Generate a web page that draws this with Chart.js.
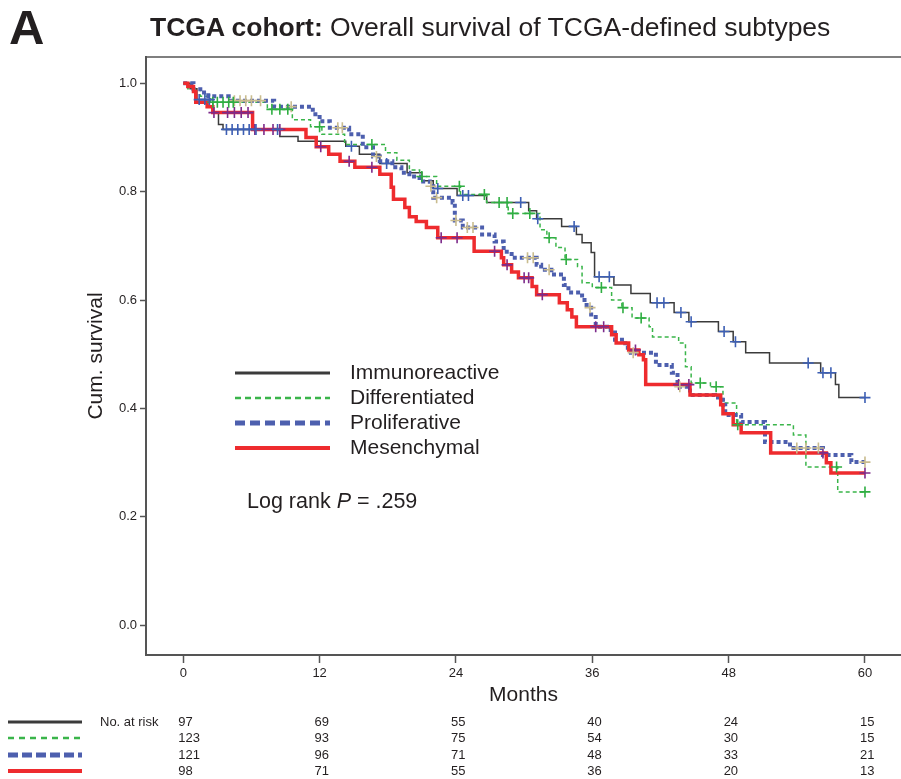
<!DOCTYPE html>
<html>
<head>
<meta charset="utf-8">
<script src="https://cdn.jsdelivr.net/npm/chart.js@4.4.1/dist/chart.umd.min.js"></script>
<style>
  body { margin: 0; background: #fff; }
  #wrap { position: relative; width: 901px; height: 779px; font-family: Arial, "Liberation Sans", sans-serif; color: #231f20; }
  #panel { position: absolute; left: 9px; top: 3px; font-size: 49px; font-weight: bold; line-height: 49px; }
  #title { position: absolute; left: 150px; top: 14px; font-size: 26.5px; line-height: 26.5px; white-space: nowrap; }
  canvas { position: absolute; left: 0; top: 0; }
</style>
</head>
<body>
<div id="wrap">
  <canvas id="km" width="901" height="779"></canvas>
  <div id="panel">A</div>
  <div id="title"><b>TCGA cohort:</b> Overall survival of TCGA-defined subtypes</div>
</div>
<script>
const months = [0, 12, 24, 36, 48, 60];
const survTicks = [0, 0.2, 0.4, 0.6, 0.8, 1.0];
const subtypes = ['Immunoreactive', 'Differentiated', 'Proliferative', 'Mesenchymal'];

// Kaplan-Meier steps (months, cumulative survival)
const immTimes = [0, 0.6, 1.2, 2.6, 3.1, 3.5, 8.5, 10.1, 14.3, 15.5, 17.3, 19.7, 21.0, 22.0, 24.1, 26.7, 30.4, 31.1, 33.3, 34.6, 35.1, 35.9, 36.2, 37.9, 39.4, 41.1, 43.2, 44.5, 47.1, 48.4, 49.5, 51.6, 56.1, 57.4, 57.7, 60];
const immSurv = [1.0, 0.99, 0.97, 0.946, 0.924, 0.915, 0.902, 0.893, 0.884, 0.869, 0.852, 0.835, 0.82, 0.806, 0.793, 0.78, 0.765, 0.75, 0.736, 0.721, 0.706, 0.688, 0.643, 0.628, 0.612, 0.595, 0.577, 0.56, 0.542, 0.523, 0.503, 0.484, 0.466, 0.444, 0.42, 0.42];
const immCensored = [1.4, 1.9, 2.3, 3.8, 4.3, 4.8, 5.3, 5.8, 6.4, 8.3, 14.8, 17.9, 22.4, 24.6, 25.1, 29.7, 31.2, 34.4, 36.6, 37.5, 41.7, 42.3, 43.8, 44.7, 47.6, 48.6, 55.0, 56.3, 57.0, 60];

const difTimes = [0, 0.4, 1.5, 2.4, 7.4, 9.6, 11.2, 12.2, 14.2, 17.8, 18.8, 19.9, 20.8, 22.3, 24.4, 26.7, 28.6, 31.4, 32.0, 32.8, 33.6, 34.7, 35.1, 36.0, 37.7, 38.6, 39.5, 41.0, 41.3, 43.6, 44.2, 44.7, 46.4, 47.5, 48.7, 53.7, 54.8, 57.6, 60];
const difSurv = [1.0, 0.99, 0.976, 0.965, 0.952, 0.933, 0.92, 0.906, 0.887, 0.872, 0.858, 0.84, 0.828, 0.81, 0.795, 0.78, 0.76, 0.73, 0.715, 0.697, 0.675, 0.662, 0.632, 0.623, 0.60, 0.586, 0.567, 0.551, 0.532, 0.521, 0.477, 0.447, 0.44, 0.41, 0.37, 0.351, 0.292, 0.246, 0.246];
const difCensored = [2.6, 3.0, 3.5, 4.0, 4.4, 7.8, 8.5, 9.2, 12.0, 16.6, 21.0, 24.3, 26.5, 27.8, 28.5, 29.0, 30.5, 32.2, 33.7, 36.8, 38.7, 40.3, 45.5, 46.9, 48.8, 57.5, 60];

const proTimes = [0, 0.9, 1.5, 2.2, 4.0, 8.0, 11.4, 12.0, 12.9, 14.6, 15.8, 16.7, 17.3, 18.4, 19.2, 19.9, 20.8, 21.7, 22.0, 23.7, 23.9, 24.6, 26.3, 27.4, 28.2, 28.9, 31.1, 31.5, 32.4, 33.5, 33.9, 35.1, 35.5, 35.9, 36.3, 37.3, 38.0, 38.9, 39.4, 41.6, 43.0, 43.5, 44.6, 46.8, 47.5, 47.7, 49.1, 51.2, 53.4, 56.3, 58.8, 60];
const proSurv = [1.0, 0.989, 0.983, 0.976, 0.968, 0.957, 0.943, 0.93, 0.918, 0.906, 0.882, 0.865, 0.856, 0.845, 0.835, 0.828, 0.819, 0.81, 0.789, 0.78, 0.747, 0.734, 0.721, 0.708, 0.689, 0.678, 0.665, 0.656, 0.647, 0.628, 0.614, 0.60, 0.586, 0.569, 0.551, 0.545, 0.527, 0.512, 0.503, 0.48, 0.466, 0.44, 0.425, 0.42, 0.407, 0.388, 0.375, 0.338, 0.327, 0.314, 0.301, 0.301];
const proCensored = [4.5, 5.0, 5.5, 6.0, 6.8, 9.5, 13.6, 14.0, 17.0, 21.8, 22.3, 24.0, 25.0, 25.5, 30.3, 30.8, 32.2, 35.8, 39.6, 43.7, 54.0, 54.8, 55.9, 60];

const mesTimes = [0, 0.4, 0.9, 1.1, 2.1, 2.6, 6.1, 10.8, 11.7, 12.8, 13.8, 15.1, 17.3, 18.3, 18.5, 19.5, 19.9, 20.5, 21.4, 22.4, 25.6, 28.0, 28.2, 28.9, 29.5, 30.7, 31.1, 33.1, 33.8, 34.2, 34.6, 37.7, 38.1, 39.2, 40.1, 40.5, 40.7, 44.6, 47.3, 47.5, 48.4, 49.1, 51.7, 56.6, 57.0, 60];
const mesSurv = [1.0, 0.994, 0.985, 0.965, 0.957, 0.946, 0.915, 0.90, 0.883, 0.869, 0.856, 0.845, 0.832, 0.808, 0.786, 0.771, 0.754, 0.745, 0.734, 0.715, 0.69, 0.678, 0.665, 0.652, 0.641, 0.625, 0.61, 0.595, 0.582, 0.569, 0.551, 0.536, 0.521, 0.508, 0.499, 0.49, 0.444, 0.425, 0.407, 0.39, 0.37, 0.355, 0.318, 0.30, 0.281, 0.281];
const mesCensored = [2.7, 3.9, 4.5, 5.1, 5.7, 6.3, 7.1, 7.9, 8.5, 12.1, 14.6, 16.6, 22.7, 24.1, 27.4, 28.5, 30.0, 30.4, 31.6, 36.3, 37.0, 39.8, 43.6, 44.5, 56.3, 60];

const atRiskImm = [97, 69, 55, 40, 24, 15];
const atRiskDif = [123, 93, 75, 54, 30, 15];
const atRiskPro = [121, 96, 71, 48, 33, 21];
const atRiskMes = [98, 71, 55, 36, 20, 13];

const family = 'Arial, "Liberation Sans", sans-serif';
const textColor = '#231f20';
const axisColor = '#555555';

const styles = [
  { color: '#3b3b3b', width: 1.5, dash: [], mark: '#3d5fb4', legW: 3, legDash: [] },
  { color: '#3ab54a', width: 1.5, dash: [4, 3], mark: '#2fae42', legW: 2.5, legDash: [6, 4] },
  { color: '#4d5fae', width: 4, dash: [4, 3], mark: '#c9bc8e', legW: 5, legDash: [10, 5] },
  { color: '#ee2b2e', width: 3.5, dash: [], mark: '#7d2b8b', legW: 4, legDash: [] }
];

function curve(times, surv) {
  return times.map((t, i) => ({ x: t, y: surv[i] }));
}
function survAt(times, surv, t) {
  let s = surv[0];
  for (let i = 0; i < times.length; i++) if (times[i] <= t) s = surv[i];
  return s;
}
function marks(cens, times, surv) {
  return cens.map(t => ({ x: t, y: survAt(times, surv, t) }));
}

const groups = [
  [immTimes, immSurv, immCensored],
  [difTimes, difSurv, difCensored],
  [proTimes, proSurv, proCensored],
  [mesTimes, mesSurv, mesCensored]
];
const atRisk = [atRiskImm, atRiskDif, atRiskPro, atRiskMes];

const datasets = [];
groups.forEach((g, i) => {
  const st = styles[i];
  datasets.push({
    type: 'line', label: subtypes[i], data: curve(g[0], g[1]), stepped: true,
    borderColor: st.color, borderWidth: st.width, borderDash: st.dash,
    pointRadius: 0, fill: false, order: 4 - i + 1
  });
  datasets.push({
    type: 'scatter', label: subtypes[i] + ' censored', data: marks(g[2], g[0], g[1]),
    pointStyle: 'cross', pointRadius: 5.5, borderColor: st.mark, borderWidth: 1.6,
    showLine: false, order: 0
  });
});

const overlay = {
  id: 'overlay',
  afterDraw(chart) {
    const { ctx, chartArea } = chart;
    const xs = chart.scales.x;
    ctx.save();
    // frame top
    ctx.strokeStyle = axisColor; ctx.lineWidth = 1.5;
    ctx.beginPath(); ctx.moveTo(chartArea.left, chartArea.top); ctx.lineTo(chartArea.right, chartArea.top); ctx.stroke();

    // legend inside the plot
    const legY = [373, 398, 423, 448];
    ctx.font = '21px ' + family;
    ctx.textBaseline = 'middle';
    ctx.textAlign = 'left';
    subtypes.forEach((name, i) => {
      const st = styles[i];
      ctx.strokeStyle = st.color; ctx.lineWidth = st.legW; ctx.setLineDash(st.legDash);
      ctx.beginPath(); ctx.moveTo(235, legY[i]); ctx.lineTo(330, legY[i]); ctx.stroke();
      ctx.setLineDash([]);
      ctx.fillStyle = textColor;
      ctx.fillText(name, 350, legY[i]);
    });

    // log rank
    let lx = 247;
    const ly = 502;
    ctx.font = '21.5px ' + family;
    ctx.fillText('Log rank ', lx, ly); lx += ctx.measureText('Log rank ').width;
    ctx.font = 'italic 21.5px ' + family;
    ctx.fillText('P', lx, ly); lx += ctx.measureText('P').width;
    ctx.font = '21.5px ' + family;
    ctx.fillText(' = .259', lx, ly);

    // numbers at risk
    const rowY = [722, 738, 755, 771];
    ctx.font = '13px ' + family;
    ctx.fillText('No. at risk', 100, rowY[0]);
    atRisk.forEach((row, i) => {
      const st = styles[i];
      ctx.strokeStyle = st.color; ctx.lineWidth = st.legW;
      ctx.setLineDash(i === 1 ? [6, 5] : i === 2 ? [10, 4] : []);
      ctx.beginPath(); ctx.moveTo(8, rowY[i]); ctx.lineTo(82, rowY[i]); ctx.stroke();
      ctx.setLineDash([]);
      row.forEach((n, j) => {
        ctx.fillText(String(n), xs.getPixelForValue(months[j]) - 5, rowY[i]);
      });
    });
    ctx.restore();
  }
};

new Chart(document.getElementById('km'), {
  type: 'line',
  data: { datasets },
  plugins: [overlay],
  options: {
    responsive: false,
    animation: false,
    devicePixelRatio: 1,
    layout: { autoPadding: false, padding: { top: 57, left: 80, right: 0, bottom: 67 } },
    plugins: { legend: { display: false }, tooltip: { enabled: false } },
    scales: {
      x: {
        type: 'linear', min: -3.28, max: 63.17,
        afterBuildTicks: s => { s.ticks = months.map(v => ({ value: v })); },
        afterFit: s => { s.height = 57; s.paddingLeft = 0; s.paddingRight = 0; },
        grid: { drawOnChartArea: false, drawTicks: true, tickLength: 8, tickColor: axisColor, tickWidth: 1.5 },
        border: { display: true, color: axisColor, width: 2 },
        ticks: { color: textColor, font: { size: 13, family }, padding: 3, maxRotation: 0, autoSkip: false },
        title: { display: true, text: 'Months', color: textColor, font: { size: 21, family }, padding: { top: 4, bottom: 4 } }
      },
      y: {
        type: 'linear', min: -0.055, max: 1.0486,
        afterBuildTicks: s => { s.ticks = survTicks.map(v => ({ value: v })); },
        afterFit: s => { s.width = 66; s.paddingTop = 0; s.paddingBottom = 0; },
        grid: { drawOnChartArea: false, drawTicks: true, tickLength: 6, tickColor: axisColor, tickWidth: 1.5 },
        border: { display: true, color: axisColor, width: 2 },
        ticks: { color: textColor, font: { size: 13, family }, padding: 3, callback: v => v.toFixed(1) },
        title: { display: true, text: 'Cum. survival', color: textColor, font: { size: 21, family }, padding: { top: 4, bottom: 4 } }
      }
    }
  }
});
</script>
</body>
</html>
